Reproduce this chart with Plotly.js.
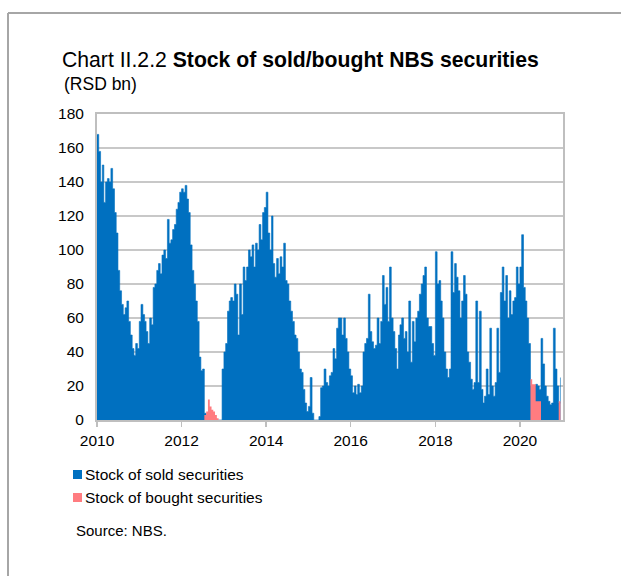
<!DOCTYPE html>
<html>
<head>
<meta charset="utf-8">
<script src="https://cdn.plot.ly/plotly-3.0.1.min.js"></script>
<style>html,body{margin:0;padding:0;background:#fff;}#chart{width:621px;height:576px;}</style>
</head>
<body>
<div id="chart"></div>
<script>
// Semi-monthly readings (1st and 16th of each month), RSD bn
const years = [2010, 2011, 2012, 2013, 2014, 2015, 2016, 2017, 2018, 2019, 2020];
const sold2010 = [168,158,140,150,128,140,142,140,148,136,122,110,88,76,68,62,66,70,58,50,42,38,45,42];
const sold2011 = [58,68,62,58,52,45,60,56,78,80,88,92,86,97,100,95,118,104,106,112,115,124,128,134];
const sold2012 = [136,134,138,130,122,103,88,80,70,58,37,29,30,4,0,0,0,0,0,0,0,0,0,30];
const sold2013 = [40,45,64,70,72,70,80,74,50,80,62,90,82,90,100,96,103,90,104,100,115,106,122,125];
const sold2014 = [134,110,100,120,92,84,95,86,96,90,104,82,80,70,64,58,50,48,40,30,28,18,10,5];
const sold2015 = [8,25,4,0,0,0,2,19,20,30,22,20,26,28,42,36,54,60,60,50,60,48,40,30];
const sold2016 = [26,16,20,15,21,16,20,40,45,48,74,52,46,42,44,60,45,58,85,68,78,58,90,60];
const sold2017 = [52,42,30,50,56,60,48,52,40,70,34,58,46,60,64,74,80,85,90,60,55,55,45,38];
const sold2018 = [99,80,82,70,60,40,30,25,30,99,75,92,84,76,60,70,85,74,40,34,24,18,22,70];
const sold2019 = [22,64,18,10,14,30,15,54,20,14,22,54,28,75,90,70,85,60,76,62,70,72,90,80];
const sold2020 = [90,109,78,70,60,45,20,20,20,21,20,18,48,33,20,14,11,9,10,54,30,20,10,25];
const bought2012 = [0,0,0,0,0,0,0,0,0,0,0,0,0,3,5,12,8,6,5,3,1,0,0,0];
const bought2020 = [0,0,0,0,0,0,24,21,21,11,11,11,0,0,0,0,0,0,0,0,0,0,11,12];
const yTicks = [0, 20, 40, 60, 80, 100, 120, 140, 160, 180];
const seriesNames = ['Stock of sold securities', 'Stock of bought securities'];
const seriesColors = ['#0070C0', '#FF7C80'];

function halfMonthDates(y) {
  const out = [];
  for (let m = 1; m <= 12; m++) {
    const mm = String(m).padStart(2, '0');
    out.push(y + '-' + mm + '-01');
    out.push(y + '-' + mm + '-16');
  }
  return out;
}
const soldByYear = [sold2010, sold2011, sold2012, sold2013, sold2014, sold2015, sold2016, sold2017, sold2018, sold2019, sold2020];
const soldX = [], soldY = [];
years.forEach((y, i) => { halfMonthDates(y).forEach((d, j) => { soldX.push(d); soldY.push(soldByYear[i][j]); }); });
const boughtX = [].concat(halfMonthDates(2012), halfMonthDates(2020));
const boughtY = [].concat(bought2012, bought2020);

const traces = [
  {type: 'scatter', mode: 'lines', x: soldX, y: soldY, fill: 'tozeroy', fillcolor: seriesColors[0],
   line: {color: seriesColors[0], width: 0.6, shape: 'hv'}, name: seriesNames[0], showlegend: false, hoverinfo: 'skip'},
  {type: 'scatter', mode: 'lines', x: boughtX, y: boughtY, fill: 'tozeroy', fillcolor: seriesColors[1],
   line: {color: seriesColors[1], width: 0, shape: 'hv'}, name: seriesNames[1], showlegend: false, hoverinfo: 'skip'}
];

const W = 466, H = 306; // plot area size in px
function px(x) { return (x - 97) / W; }
function py(y) { return (420 - y) / H; }

const layout = {
  width: 621, height: 576,
  margin: {l: 97, r: 58, t: 114, b: 156},
  paper_bgcolor: '#ffffff', plot_bgcolor: '#ffffff',
  font: {family: '"Liberation Sans", Arial, sans-serif', color: '#000', size: 15.5},
  title: {
    text: 'Chart II.2.2 <b>Stock of sold/bought NBS securities</b>',
    font: {size: 21.2, color: '#000', family: '"Liberation Sans", Arial, sans-serif'},
    xref: 'container', yref: 'container', x: 62 / 621, xanchor: 'left', y: 1 - 52 / 576, yanchor: 'top'
  },
  showlegend: false,
  xaxis: {
    type: 'date', range: ['2010-01-01', '2021-01-07'],
    tick0: '2010-01-01', dtick: 'M24', tickformat: '%Y',
    ticks: 'outside', ticklen: 5, tickwidth: 1.5, tickcolor: '#BFBFBF',
    showgrid: false, showline: true, linecolor: '#BFBFBF', linewidth: 2, mirror: true,
    tickfont: {size: 15.5}, fixedrange: true, zeroline: false
  },
  yaxis: {
    range: [0, 180], tickvals: yTicks, ticks: '', ticklabelstandoff: 8,
    showgrid: true, gridcolor: '#C8C8C8', gridwidth: 2,
    showline: true, linecolor: '#BFBFBF', linewidth: 2, mirror: true,
    tickfont: {size: 15.5}, fixedrange: true, zeroline: false
  },
  shapes: [
    {type: 'line', xref: 'paper', yref: 'paper', x0: px(8), x1: px(8), y0: py(13), y1: py(576), line: {color: '#A6A6A6', width: 2}},
    {type: 'line', xref: 'paper', yref: 'paper', x0: px(8), x1: px(621), y0: py(13), y1: py(13), line: {color: '#A6A6A6', width: 2}},
    {type: 'rect', xref: 'paper', yref: 'paper', x0: px(73), x1: px(82), y0: py(479), y1: py(470), fillcolor: seriesColors[0], line: {width: 0}},
    {type: 'rect', xref: 'paper', yref: 'paper', x0: px(73), x1: px(82), y0: py(502), y1: py(493), fillcolor: seriesColors[1], line: {width: 0}}
  ],
  annotations: [
    {text: '(RSD bn)', xref: 'paper', yref: 'paper', x: px(62), y: py(72), xanchor: 'left', yanchor: 'top', showarrow: false, font: {size: 17.5}},
    {text: seriesNames[0], xref: 'paper', yref: 'paper', x: px(83), y: py(474.5), xanchor: 'left', yanchor: 'middle', showarrow: false, font: {size: 15.5}},
    {text: seriesNames[1], xref: 'paper', yref: 'paper', x: px(83), y: py(497.5), xanchor: 'left', yanchor: 'middle', showarrow: false, font: {size: 15.5}},
    {text: 'Source: NBS.', xref: 'paper', yref: 'paper', x: px(74), y: py(530), xanchor: 'left', yanchor: 'middle', showarrow: false, font: {size: 15}}
  ]
};

Plotly.newPlot('chart', traces, layout, {staticPlot: true, displayModeBar: false});
</script>
</body>
</html>
